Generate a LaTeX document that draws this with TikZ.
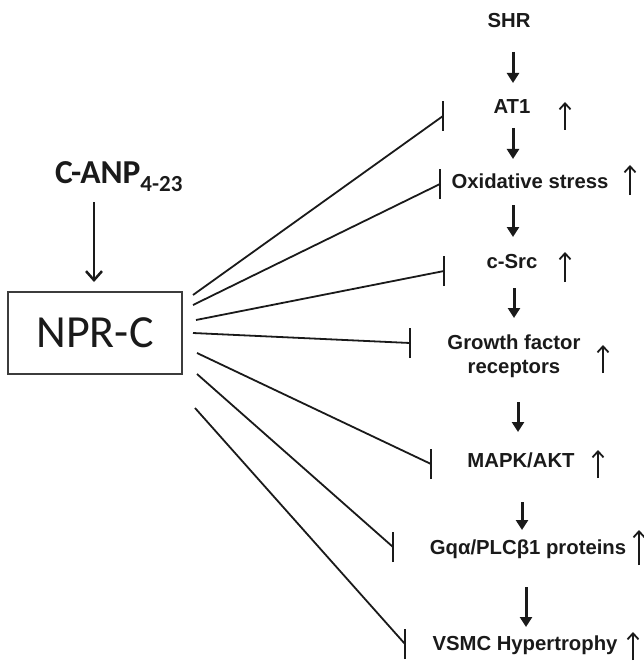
\documentclass[tikz,border=0pt]{standalone}
\usepackage{fontspec}
\setmainfont{Liberation Sans}
\newfontfamily\calib{Carlito}
\usetikzlibrary{arrows.meta}
\definecolor{ink}{HTML}{1A1A1A}
\tikzset{
  lab/.style={font=\fontsize{20.3}{23.5}\selectfont\bfseries, text=ink, inner sep=0pt, align=center},
  down/.style={line width=3pt, draw=ink, -{Triangle[length=10pt,width=12pt]}},
  uparr/.style={line width=1.8pt, draw=ink, -{Straight Barb[length=6pt,width=11pt,line width=1.8pt]}},
  inhib/.style={line width=1.8pt, draw=ink},
  ibar/.style={line width=2.2pt, draw=ink},
}
\begin{document}
\begin{tikzpicture}[x=1pt,y=-1pt]
\useasboundingbox (0,0) rectangle (644,663);

% left side
\node[draw=ink!85, line width=1.4pt, minimum width=174pt, minimum height=82pt, inner sep=0pt,
      font=\calib\fontsize{46}{50}\selectfont, text=ink] (npr) at (95,333) {NPR-C};
\node[inner sep=0pt, anchor=base west, text=ink, font=\calib\bfseries\fontsize{33.5}{38}\selectfont] (canp) at (55,183)
  {C-ANP\raisebox{-8pt}{\fontsize{23}{27}\selectfont 4-23}};
\coordinate (ca1) at (94,202);
\coordinate (ca2) at (94,282);
\draw[line width=2.5pt, draw=ink, -{Straight Barb[length=9pt,width=16pt,line width=2.5pt]}] (ca1) -- (ca2);

% right column labels
\node[lab] (shr) at (509,21) {SHR};
\node[lab] (at1) at (512,107) {AT1};
\node[lab] (ox) at (530,181) {Oxidative stress};
\node[lab] (src) at (512,262) {c-Src};
\node[lab] (gf) at (514,356) {Growth factor\\receptors};
\node[lab] (mapk) at (521,460) {MAPK/AKT};
\node[lab] (gq) at (528,549) {Gqα/PLCβ1 proteins};
\node[lab] (vsmc) at (525,645) {VSMC Hypertrophy};

% down arrows
\coordinate (d1a) at (513,52);  \coordinate (d1b) at (513,83);
\coordinate (d2a) at (513,128); \coordinate (d2b) at (513,159);
\coordinate (d3a) at (513,205); \coordinate (d3b) at (513,237);
\coordinate (d4a) at (514,288); \coordinate (d4b) at (514,318);
\coordinate (d5a) at (518,402); \coordinate (d5b) at (518,432);
\coordinate (d6a) at (522,502); \coordinate (d6b) at (522,530);
\coordinate (d7a) at (526,587); \coordinate (d7b) at (526,627);
\foreach \i in {1,...,7} \draw[down] (d\i a) -- (d\i b);

% up arrows
\coordinate (u1a) at (565,130); \coordinate (u1b) at (565,102);
\coordinate (u2a) at (630,195); \coordinate (u2b) at (630,165);
\coordinate (u3a) at (565,282); \coordinate (u3b) at (565,252);
\coordinate (u4a) at (603,373); \coordinate (u4b) at (603,345);
\coordinate (u5a) at (598,478); \coordinate (u5b) at (598,450);
\coordinate (u6a) at (639,565); \coordinate (u6b) at (639,530);
\coordinate (u7a) at (633,660); \coordinate (u7b) at (633,632);
\foreach \i in {1,...,7} \draw[uparr] (u\i a) -- (u\i b);

% inhibition lines from NPR-C
\coordinate (s1) at (193,295);   \coordinate (e1) at (443,116);
\coordinate (s2) at (193,305);   \coordinate (e2) at (440,184);
\coordinate (s3) at (196,320);   \coordinate (e3) at (444,271);
\coordinate (s4) at (193,333);   \coordinate (e4) at (410,343);
\coordinate (s5) at (197,353);   \coordinate (e5) at (431,464);
\coordinate (s6) at (197,374);   \coordinate (e6) at (393,547);
\coordinate (s7) at (195,408);   \coordinate (e7) at (405,644);
\foreach \i in {1,...,7} {
  \draw[inhib] (s\i) -- (e\i);
  \draw[ibar] ([yshift=-15pt]e\i) -- ([yshift=15pt]e\i);
}
\end{tikzpicture}
\end{document}
